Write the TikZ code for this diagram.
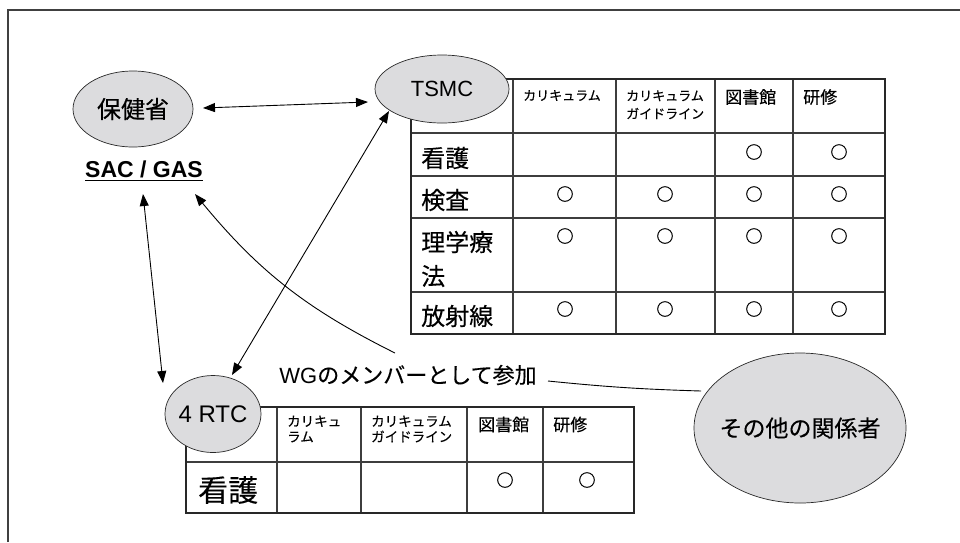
\documentclass[tikz,border=0pt]{standalone}
\usepackage{fontspec}
\setmainfont{Liberation Sans}
\newfontfamily\jp{Noto Sans CJK JP}[FakeBold=0.3]
\newfontfamily\jpmark{Noto Sans CJK JP}[FakeBold=1.2]
\usetikzlibrary{arrows.meta,calc,shapes.geometric}
\definecolor{ellfill}{RGB}{220,220,222}
\definecolor{ln}{RGB}{40,40,40}
\tikzset{
  ell/.style={ellipse, draw=ln, line width=0.7pt, fill=ellfill, inner sep=0pt},
  conn/.style={line width=0.9pt, draw=black},
  tl/.style={inner sep=0pt, anchor=west},
  hdr/.style={tl, font=\jp\fontsize{13}{18}\selectfont, align=left},
  hdrs/.style={tl, font=\jp\fontsize{13.5}{15.5}\selectfont, align=left},
  hdrb/.style={tl, font=\jp\fontsize{17}{20}\selectfont},
  rowl/.style={tl, font=\jp\fontsize{24}{34}\selectfont, align=left},
  okmark/.style={inner sep=0pt, font=\jpmark\fontsize{17}{17}\selectfont},
  outerline/.style={line width=2.2pt, draw=ln},
  innerline/.style={line width=1.1pt, draw=ln!90},
  >={Triangle[length=12pt,width=9pt]}
}
\begin{document}
\begin{tikzpicture}[x=1pt,y=-1pt]
\useasboundingbox (0,0) rectangle (960,542);
% frame
\draw[line width=1.5pt, draw=black!75] (8,542) -- (8,10) -- (960,10);

% TSMC table
\foreach \x in {513,616,715,793} \draw[innerline] (\x,79) -- (\x,334);
\foreach \y in {133,176,218,292} \draw[innerline] (411,\y) -- (885,\y);
\draw[outerline] (411,79) rectangle (885,334);
\node[hdr] (th1) at (523,95.5) {カリキュラム};
\node[hdr] (th2) at (626,104.75) {カリキュラム\\ガイドライン};
\node[hdrb] (th3) at (725,97) {図書館};
\node[hdrb] (th4) at (803,97) {研修};
\node[rowl] (tr1) at (421,158) {看護};
\node[rowl] (tr2) at (421,200) {検査};
\node[rowl] (tr3) at (421,259) {理学療\\法};
\node[rowl] (tr4) at (421,316) {放射線};
\foreach \x/\y/\n in {754/152/a,839/152/b,
  565/194/c,665/194/d,754/194/e,839/194/f,
  565/236/g,665/236/h,754/236/i,839/236/j,
  565/309/k,665/309/l,754/309/m,839/309/n}
  \node[okmark] (ok\n) at (\x,\y) {○};

% RTC table
\foreach \x in {277,361,467,543} \draw[innerline] (\x,407) -- (\x,513);
\draw[innerline] (186,462) -- (634,462);
\draw[outerline] (186,407) rectangle (634,513);
\node[hdrs] (rh1) at (287,429) {カリキュ\\ラム};
\node[hdrs] (rh2) at (371,429) {カリキュラム\\ガイドライン};
\node[hdrb] (rh3) at (478,424.5) {図書館};
\node[hdrb] (rh4) at (553,424.5) {研修};
\node[tl, font=\jp\fontsize{30}{30}\selectfont] (rr1) at (198,490) {看護};
\node[okmark] (rok1) at (505,480) {○};
\node[okmark] (rok2) at (587,480) {○};

% ellipses
\node[ell, minimum width=120pt, minimum height=76pt] (hk) at (133,109)
  {\makebox[0pt]{\jp\fontsize{24}{24}\selectfont 保健省}};
\node[ell, minimum width=134pt, minimum height=68pt] (tsmc) at (442,89)
  {\makebox[0pt]{\fontsize{22}{22}\selectfont TSMC}};
\node[ell, minimum width=96pt, minimum height=77pt] (rtc) at (213,414)
  {\makebox[0pt]{\fontsize{24}{24}\selectfont 4 RTC}};
\node[ell, minimum width=212pt, minimum height=150pt] (other) at (800,428)
  {\makebox[0pt]{\jp\fontsize{23}{23}\selectfont その他の関係者}};

% texts
\node[inner sep=0pt, font=\bfseries\fontsize{23}{23}\selectfont] (sac) at (144,169) {SAC / GAS};
\draw[line width=1.3pt] ($(sac.south west)+(0,3)$) -- ($(sac.south east)+(0,3)$);
\node[inner sep=0pt, font=\fontsize{22}{22}\selectfont] (wg) at (408,375) {WG{\jp のメンバーとして参加}};

% connectors
\draw[conn,<->] ($(hk.center)+(70,-1)$) -- ($(tsmc.center)+(-74,13)$);
\draw[conn,<->] ($(sac.center)+(-1,25)$) -- ($(rtc.center)+(-50,-31)$);
\draw[conn,<->] ($(tsmc.center)+(-53,22)$) -- ($(rtc.center)+(19,-39)$);
\draw[conn,->] ($(wg.center)+(-13,-22)$) to[bend left=12] ($(sac.center)+(51,25)$);
\draw[conn] ($(wg.center)+(140,6)$) to[bend right=2] ($(other.center)+(-99,-37)$);
\end{tikzpicture}
\end{document}
